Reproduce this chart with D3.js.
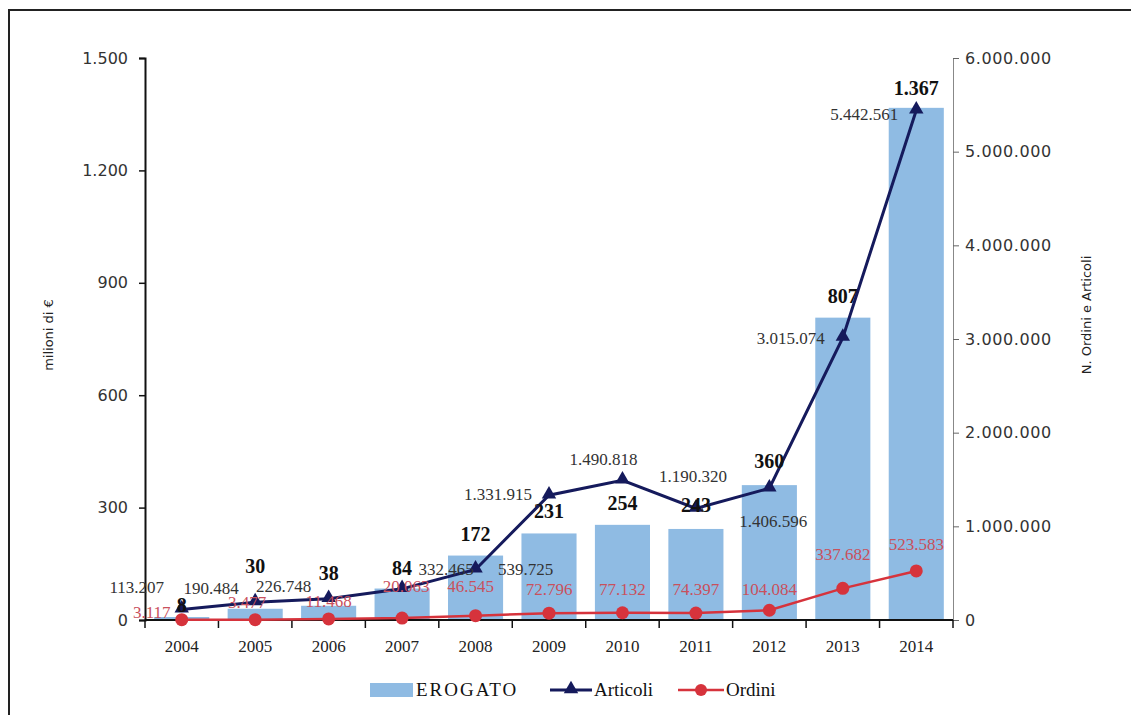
<!DOCTYPE html>
<html>
<head>
<meta charset="utf-8">
<script src="https://cdn.jsdelivr.net/npm/d3@7"></script>
<style>
  body { margin: 0; background: #fff; }
  svg { display: block; }
</style>
</head>
<body>
<div id="body"></div>
<script>
// data
let years = ["2004", "2005", "2006", "2007", "2008", "2009", "2010", "2011", "2012", "2013", "2014"];
let erogato = [8, 30, 38, 84, 172, 231, 254, 243, 360, 807, 1367];
let articoli = [113207, 190484, 226748, 332465, 539725, 1331915, 1490818, 1190320, 1406596, 3015074, 5442561];
let ordini = [3117, 3477, 11468, 20063, 46545, 72796, 77132, 74397, 104084, 337682, 523583];
let leftTicks = [0, 300, 600, 900, 1200, 1500];
let rightTicks = [0, 1000000, 2000000, 3000000, 4000000, 5000000, 6000000];

// label nudges (dx, dy) so they sit roughly where the original put them
let artOff = [[-45, -16], [-44, -8], [-45, -7], [44, -14], [50, 6], [-51, 5], [-19, -15], [-3, -27], [4, 39], [-52, 6], [-52, 10]];
let ordOff = [[-30, -2], [-8, -12], [0, -12], [4, -26], [-5, -24], [0, -18], [0, -18], [0, -18], [0, -15], [0, -28], [0, -21]];
let barOff = [-5, -36, -26, -14, -15, -15, -15, -17, -17, -15, -13];

let width = 1131,
  height = 715;
let serif = "'Liberation Serif', 'Times New Roman', serif";
let sans = "'DejaVu Sans', Verdana, sans-serif";

let fmt = d3.formatLocale({ decimal: ",", thousands: ".", grouping: [3] }).format(",d");

let svg = d3
  .select("#body")
  .append("svg")
  .attr("width", width)
  .attr("height", height);

// frame (only top and left edges are visible in the original)
svg.append("path")
  .attr("d", "M9,715 L9,10 L1131,10")
  .attr("fill", "none")
  .attr("stroke", "#222")
  .attr("stroke-width", 2);

let x = d3.scaleBand().domain(years).range([145, 953]).paddingInner(0.25).paddingOuter(0.125);
let yL = d3.scaleLinear().domain([0, 1500]).range([620, 58]);
let yR = d3.scaleLinear().domain([0, 6000000]).range([620, 58]);
let cx = (d) => x(d) + x.bandwidth() / 2;

// bars
svg.selectAll(".bar")
  .data(years)
  .enter()
  .append("rect")
  .attr("class", "bar")
  .attr("x", (d) => x(d))
  .attr("width", x.bandwidth())
  .attr("y", (d, i) => yL(erogato[i]))
  .attr("height", (d, i) => yL(0) - yL(erogato[i]))
  .attr("fill", "#8fbbe3");

// left axis
let left = svg.append("g")
  .attr("transform", "translate(145,0)")
  .call(d3.axisLeft(yL).tickValues(leftTicks).tickSize(6).tickFormat(fmt));
left.select(".domain").attr("stroke", "#111").attr("stroke-width", 2);
left.selectAll(".tick line").attr("stroke", "#111").attr("stroke-width", 1.5);
left.selectAll("text").attr("font-family", sans).attr("font-size", 16).attr("fill", "#333").attr("dx", -8);

// right axis
let right = svg.append("g")
  .attr("transform", "translate(953,0)")
  .call(d3.axisRight(yR).tickValues(rightTicks).tickSize(6).tickFormat(fmt));
right.select(".domain").attr("stroke", "#888").attr("stroke-width", 1);
right.selectAll(".tick line").attr("stroke", "#666");
right.selectAll("text").attr("font-family", sans).attr("font-size", 16).attr("fill", "#333").attr("dx", 3).attr("letter-spacing", 0.6);

// x axis with ticks between the categories
let bounds = years.map((d) => x(d) - (x.step() * x.paddingInner()) / 2).concat([953]);
bounds[0] = 145;
svg.append("line")
  .attr("x1", 145).attr("x2", 953)
  .attr("y1", 620).attr("y2", 620)
  .attr("stroke", "#111").attr("stroke-width", 2);
svg.selectAll(".xtick")
  .data(bounds)
  .enter()
  .append("line")
  .attr("x1", (d) => d).attr("x2", (d) => d)
  .attr("y1", 620).attr("y2", 628)
  .attr("stroke", "#111").attr("stroke-width", 1.5);
svg.selectAll(".xlab")
  .data(years)
  .enter()
  .append("text")
  .attr("x", cx)
  .attr("y", 652)
  .attr("text-anchor", "middle")
  .attr("font-family", serif)
  .attr("font-size", 17)
  .attr("fill", "#222")
  .text((d) => d);

// axis titles
svg.append("text")
  .attr("transform", "translate(53,335) rotate(-90)")
  .attr("text-anchor", "middle")
  .attr("font-family", sans)
  .attr("font-size", 13)
  .attr("fill", "#222")
  .text("milioni di €");
svg.append("text")
  .attr("transform", "translate(1091,315) rotate(-90)")
  .attr("text-anchor", "middle")
  .attr("font-family", sans)
  .attr("font-size", 13)
  .attr("fill", "#222")
  .text("N. Ordini e Articoli");

// lines
let lineArt = d3.line().x((d, i) => cx(years[i])).y((d) => yR(d));
svg.append("path")
  .datum(articoli)
  .attr("d", lineArt)
  .attr("fill", "none")
  .attr("stroke", "#151a5c")
  .attr("stroke-width", 3);

svg.append("path")
  .datum(ordini)
  .attr("d", lineArt)
  .attr("fill", "none")
  .attr("stroke", "#d6333c")
  .attr("stroke-width", 2.5);

let tri = d3.symbol().type(d3.symbolTriangle).size(90);
svg.selectAll(".tri")
  .data(articoli)
  .enter()
  .append("path")
  .attr("d", tri)
  .attr("transform", (d, i) => "translate(" + cx(years[i]) + "," + (yR(d) - 1) + ")")
  .attr("fill", "#151a5c");

svg.selectAll(".dot")
  .data(ordini)
  .enter()
  .append("circle")
  .attr("cx", (d, i) => cx(years[i]))
  .attr("cy", (d) => yR(d))
  .attr("r", 6.5)
  .attr("fill", "#d6333c");

// data labels
svg.selectAll(".ordlab")
  .data(ordini)
  .enter()
  .append("text")
  .attr("x", (d, i) => cx(years[i]) + ordOff[i][0])
  .attr("y", (d, i) => yR(d) + ordOff[i][1])
  .attr("text-anchor", "middle")
  .attr("font-family", serif)
  .attr("font-size", 17)
  .attr("fill", "#c9505c")
  .text((d) => fmt(d));

svg.selectAll(".artlab")
  .data(articoli)
  .enter()
  .append("text")
  .attr("x", (d, i) => cx(years[i]) + artOff[i][0])
  .attr("y", (d, i) => yR(d) + artOff[i][1])
  .attr("text-anchor", "middle")
  .attr("font-family", serif)
  .attr("font-size", 17)
  .attr("fill", "#333")
  .text((d) => fmt(d));

svg.selectAll(".barlab")
  .data(erogato)
  .enter()
  .append("text")
  .attr("x", (d, i) => cx(years[i]))
  .attr("y", (d, i) => yL(d) + barOff[i])
  .attr("text-anchor", "middle")
  .attr("font-family", serif)
  .attr("font-size", 20)
  .attr("font-weight", "bold")
  .attr("fill", "#111")
  .text((d) => fmt(d));

// legend
let lg = svg.append("g").attr("transform", "translate(0,690)");
lg.append("rect").attr("x", 370).attr("y", -7).attr("width", 43).attr("height", 14).attr("fill", "#8fbbe3");
lg.append("text").attr("x", 416).attr("y", 6).attr("font-family", serif).attr("font-size", 19)
  .attr("letter-spacing", 2).attr("fill", "#111").text("EROGATO");
lg.append("line").attr("x1", 550).attr("x2", 592).attr("y1", 0).attr("y2", 0).attr("stroke", "#151a5c").attr("stroke-width", 3);
lg.append("path").attr("d", tri).attr("transform", "translate(571,-1)").attr("fill", "#151a5c");
lg.append("text").attr("x", 594).attr("y", 6).attr("font-family", serif).attr("font-size", 19).attr("fill", "#111").text("Articoli");
lg.append("line").attr("x1", 678).attr("x2", 724).attr("y1", 0).attr("y2", 0).attr("stroke", "#d6333c").attr("stroke-width", 2.5);
lg.append("circle").attr("cx", 701).attr("cy", 0).attr("r", 6).attr("fill", "#d6333c");
lg.append("text").attr("x", 726).attr("y", 6).attr("font-family", serif).attr("font-size", 19).attr("fill", "#111").text("Ordini");
</script>
</body>
</html>
